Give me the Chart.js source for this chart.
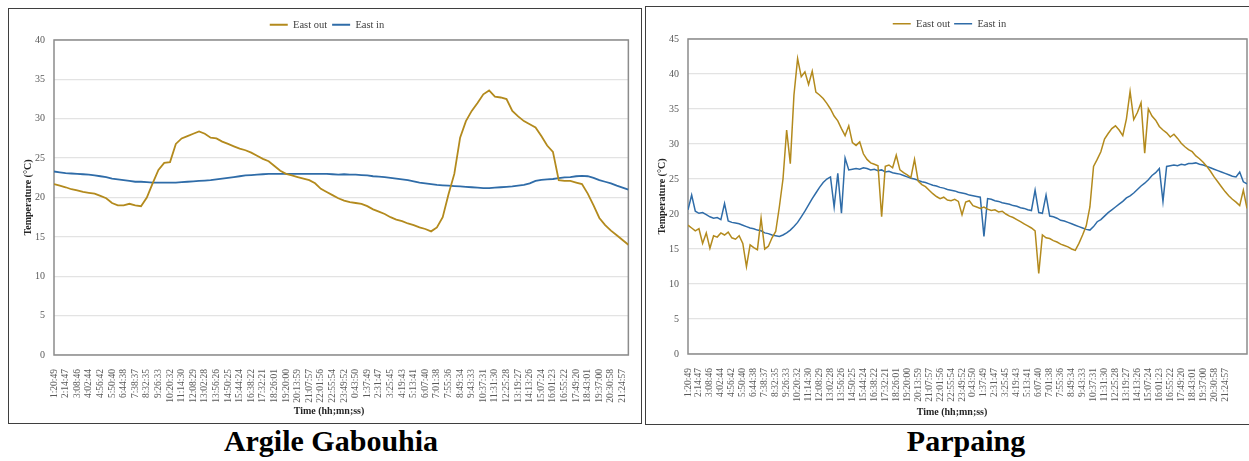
<!DOCTYPE html>
<html>
<head>
<meta charset="utf-8">
<script src="https://cdn.jsdelivr.net/npm/chart.js@4.4.1/dist/chart.umd.min.js"></script>
<style>
  body { margin: 0; background: #fff; width: 1249px; height: 461px; overflow: hidden; position: relative; font-family: "Liberation Serif", "DejaVu Serif", serif; }
  .box { position: absolute; border: 1.5px solid #3f3f3f; box-sizing: border-box; z-index: 2; pointer-events: none; }
  #boxA { left: 8px; top: 8px; width: 634px; height: 416px; }
  #boxB { left: 645px; top: 6px; width: 610px; height: 419px; }
  canvas { position: absolute; }
  #chartA { left: 10px; top: 10px; }
  #chartB { left: 647px; top: 8px; }
  .cap { position: absolute; top: 424px; width: 400px; text-align: center; font-weight: bold; font-size: 30px; line-height: 34px; color: #000; }
  #capA { left: 131px; }
  #capB { left: 766px; }
</style>
</head>
<body>
<div class="box" id="boxA"></div>
<div class="box" id="boxB"></div>
<canvas id="chartA" width="630" height="412"></canvas>
<canvas id="chartB" width="602" height="415"></canvas>
<div class="cap" id="capA">Argile Gabouhia</div>
<div class="cap" id="capB">Parpaing</div>

<script>
// time labels shown under both charts (one per label step)
const timeLabels = [
  '1:20:49', '2:14:47', '3:08:46', '4:02:44', '4:56:42', '5:50:40', '6:44:38', '7:38:37', '8:32:35', '9:26:33',
  '10:20:32', '11:14:30', '12:08:29', '13:02:28', '13:56:26', '14:50:25', '15:44:24', '16:38:22', '17:32:21', '18:26:01',
  '19:20:00', '20:13:59', '21:07:57', '22:01:56', '22:55:54', '23:49:52', '0:43:50', '1:37:49', '2:31:47', '3:25:45',
  '4:19:43', '5:13:41', '6:07:40', '7:01:38', '7:55:36', '8:49:34', '9:43:33', '10:37:31', '11:31:30', '12:25:28',
  '13:19:27', '14:13:26', '15:07:24', '16:01:23', '16:55:22', '17:49:20', '18:43:01', '19:37:00', '20:30:58', '21:24:57'
];

// Argile Gabouhia: 2 readings per label step
const argileOut = [
  21.7, 21.5, 21.3, 21.05, 20.9, 20.7, 20.6, 20.5, 20.2, 19.9,
  19.3, 19.0, 19.0, 19.2, 19.0, 18.9, 20.0, 21.8, 23.5, 24.4,
  24.5, 26.8, 27.5, 27.8, 28.1, 28.4, 28.1, 27.6, 27.5, 27.1,
  26.8, 26.5, 26.2, 26.0, 25.7, 25.3, 24.9, 24.6, 24.0, 23.4,
  23.0, 22.8, 22.6, 22.4, 22.2, 21.8, 21.1, 20.7, 20.3, 19.9,
  19.6, 19.4, 19.3, 19.2, 18.9, 18.5, 18.2, 17.9, 17.5, 17.2,
  17.0, 16.7, 16.5, 16.2, 16.0, 15.7, 16.2, 17.5, 20.4, 23.0,
  27.6, 29.7, 31.0, 32.0, 33.1, 33.6, 32.8, 32.7, 32.5, 31.0,
  30.3, 29.7, 29.3, 28.9, 27.8, 26.6, 25.8, 22.2, 22.1, 22.1,
  21.9, 21.7, 20.5, 19.0, 17.4, 16.5, 15.8, 15.2, 14.6, 14.0
];
const argileIn = [
  23.3, 23.2, 23.1, 23.05, 23.0, 22.95, 22.9, 22.8, 22.7, 22.6,
  22.4, 22.3, 22.2, 22.1, 22.0, 22.0, 21.95, 21.9, 21.9, 21.9,
  21.9, 21.9, 21.95, 22.0, 22.05, 22.1, 22.15, 22.2, 22.3, 22.4,
  22.5, 22.6, 22.7, 22.8, 22.85, 22.9, 22.95, 23.0, 23.0, 23.0,
  23.0, 23.0, 23.0, 23.0, 23.0, 23.0, 23.0, 23.0, 22.95, 22.9,
  22.95, 22.9, 22.9, 22.85, 22.8, 22.7, 22.65, 22.6, 22.5, 22.4,
  22.3, 22.2, 22.05, 21.9, 21.8, 21.7, 21.6, 21.55, 21.5, 21.45,
  21.4, 21.35, 21.3, 21.25, 21.2, 21.2, 21.25, 21.3, 21.35, 21.4,
  21.5, 21.6, 21.8, 22.1, 22.25, 22.3, 22.35, 22.45, 22.55, 22.6,
  22.7, 22.75, 22.7, 22.5, 22.2, 22.0, 21.8, 21.5, 21.25, 21.0
];

// Parpaing: 3 readings per label step
const parpaingOut = [
  18.4, 18.0, 17.6, 17.9, 15.8, 17.3, 15.1, 16.9, 16.7, 17.3, 17.0, 17.4, 16.6, 16.4, 16.9,
  15.8, 12.5, 15.6, 15.2, 14.9, 19.4, 15.0, 15.4, 16.6, 17.5, 21.0, 25.0, 32.0, 27.2, 37.0,
  42.2, 39.6, 40.3, 38.5, 40.4, 37.4, 37.0, 36.5, 35.8, 35.0, 34.0, 33.3, 32.2, 31.2, 32.6,
  30.2, 29.8, 30.3, 28.6, 27.8, 27.3, 27.1, 26.9, 19.6, 26.8, 27.0, 26.6, 28.4, 26.3, 25.9,
  25.6, 25.2, 27.8, 24.7, 24.2, 23.9, 23.4, 22.9, 22.5, 22.2, 22.4, 22.0, 21.9, 22.1, 21.8,
  19.9, 21.7, 21.9, 21.2, 21.0, 20.8, 21.0, 20.7, 20.5, 20.6, 20.3, 20.4, 20.0, 19.7, 19.5,
  19.2, 18.9, 18.6, 18.3, 18.0, 17.6, 11.5, 17.0, 16.6, 16.5, 16.2, 16.0, 15.7, 15.5, 15.3,
  15.0, 14.8, 15.8, 17.0, 18.3, 21.0, 26.8, 27.8, 28.9, 30.7, 31.5, 32.2, 32.6, 32.0, 31.2,
  33.6, 37.5, 33.5, 34.5, 35.9, 28.7, 35.0, 34.0, 33.4, 32.5, 32.0, 31.6, 31.0, 31.4, 30.8,
  30.1, 29.6, 29.2, 28.9, 28.3, 27.9, 27.4, 26.8, 26.1, 25.3, 24.6, 23.9, 23.2, 22.6, 22.1,
  21.7, 21.2, 23.4, 20.8
];
const parpaingIn = [
  20.6, 22.7, 20.4, 20.1, 20.2, 19.9, 19.6, 19.4, 19.5, 19.2, 21.5, 19.0, 18.8, 18.7, 18.6,
  18.4, 18.2, 18.0, 17.9, 17.7, 17.6, 17.3, 17.2, 17.0, 16.9, 16.8, 17.0, 17.3, 17.7, 18.2,
  18.8, 19.6, 20.4, 21.3, 22.2, 23.0, 23.8, 24.5, 25.0, 25.3, 21.0, 25.8, 20.1, 28.0, 26.3,
  26.4, 26.5, 26.4, 26.6, 26.5, 26.3, 26.4, 26.2, 26.3, 26.0, 26.1, 25.9, 25.8, 25.7, 25.5,
  25.3, 25.1, 25.0, 24.8, 24.6, 24.5, 24.3, 24.1, 24.0, 23.8, 23.7, 23.5, 23.4, 23.3, 23.1,
  23.0, 22.9, 22.7, 22.6, 22.5, 22.4, 16.8, 22.2, 22.1, 21.9, 21.8, 21.6, 21.5, 21.4, 21.2,
  21.1, 20.9, 20.8, 20.6, 20.5, 23.4, 20.2, 20.1, 22.7, 19.7, 19.6, 19.4, 19.1, 19.0, 18.8,
  18.6, 18.4, 18.2, 18.0, 17.8, 17.7, 18.2, 18.9, 19.2, 19.7, 20.2, 20.6, 21.0, 21.4, 21.8,
  22.3, 22.6, 23.0, 23.5, 24.0, 24.4, 24.9, 25.5, 25.9, 26.5, 21.8, 26.8, 26.9, 27.0, 26.9,
  27.1, 27.0, 27.2, 27.2, 27.3, 27.1, 27.0, 26.8, 26.6, 26.4, 26.2, 26.0, 25.8, 25.6, 25.4,
  25.3, 26.0, 24.6, 24.3
];

const GOLD = '#B38A1D';
const BLUE = '#2F6CA8';
const SERIF = '"Liberation Serif", "DejaVu Serif", serif';

// grey frame round the plot area
const plotFrame = {
  id: 'plotFrame',
  beforeDatasetsDraw(chart) {
    const { left, top, right, bottom } = chart.chartArea;
    const ctx = chart.ctx;
    ctx.save();
    ctx.strokeStyle = '#8c8c8c';
    ctx.lineWidth = 1.5;
    ctx.strokeRect(left, top, right - left, bottom - top);
    ctx.restore();
  }
};

// x axis title is centred on the whole chart, not on the plot
const xTitle = {
  id: 'xTitle',
  afterDraw(chart, args, opts) {
    const ctx = chart.ctx;
    ctx.save();
    ctx.font = 'bold 10px ' + SERIF;
    ctx.fillStyle = '#262626';
    ctx.textAlign = 'center';
    ctx.textBaseline = 'middle';
    ctx.fillText(opts.text, chart.width / 2 + opts.dx, opts.y);
    ctx.restore();
  }
};

function toPoints(values, perStep) {
  return values.map((v, k) => ({ x: k / perStep, y: v }));
}

function makeChart(id, cfg) {
  const ctx = document.getElementById(id).getContext('2d');
  return new Chart(ctx, {
    type: 'line',
    data: {
      datasets: [{
        label: 'East out',
        data: toPoints(cfg.outData, cfg.perStep),
        borderColor: GOLD,
        backgroundColor: GOLD,
        borderWidth: cfg.lineWidth,
        pointRadius: 0,
        tension: 0
      }, {
        label: 'East in',
        data: toPoints(cfg.inData, cfg.perStep),
        borderColor: BLUE,
        backgroundColor: BLUE,
        borderWidth: cfg.lineWidth,
        pointRadius: 0,
        tension: 0
      }]
    },
    options: {
      responsive: false,
      animation: false,
      layout: { padding: { left: cfg.padLeft, right: cfg.padRight, top: 0, bottom: 0 } },
      scales: {
        x: {
          type: 'linear',
          min: 0,
          max: cfg.xMax,
          grid: { display: false },
          border: { display: false },
          ticks: {
            stepSize: 1,
            autoSkip: false,
            includeBounds: false,
            minRotation: 90,
            maxRotation: 90,
            padding: 6,
            color: '#595959',
            font: { family: SERIF, size: 9.5 },
            callback: (v) => Number.isInteger(v) ? timeLabels[v] : ''
          },
          afterFit: (s) => { s.height = cfg.xHeight; }
        },
        y: {
          min: 0,
          max: cfg.yMax,
          grid: { color: '#e3e3e3', lineWidth: 1.3, drawTicks: false },
          border: { display: false },
          ticks: {
            stepSize: 5,
            padding: 9,
            color: '#595959',
            font: { family: SERIF, size: 10 }
          },
          title: {
            display: true,
            text: 'Temperature (°C)',
            color: '#262626',
            font: { family: SERIF, size: 10, weight: 'bold' },
            padding: { top: 4, bottom: 4 }
          },
          afterFit: (s) => { s.width = 36; s.paddingTop = cfg.plotTop; }
        }
      },
      plugins: {
        legend: {
          display: true,
          position: 'top',
          labels: {
            usePointStyle: true,
            pointStyle: 'line',
            pointStyleWidth: 18,
            padding: cfg.legendPad,
            color: '#404040',
            font: { family: SERIF, size: 10.5 }
          }
        },
        tooltip: { enabled: false },
        xTitle: { text: 'Time (hh;mn;ss)', dx: 4, y: cfg.titleY }
      }
    },
    plugins: [plotFrame, xTitle]
  });
}

makeChart('chartA', {
  outData: argileOut, inData: argileIn, perStep: 2, xMax: 49.5, yMax: 40,
  lineWidth: 1.8, padLeft: 8, padRight: 4, xHeight: 67, plotTop: 30, legendPad: 5, titleY: 401
});

makeChart('chartB', {
  outData: parpaingOut, inData: parpaingIn, perStep: 3, xMax: 51, yMax: 45,
  lineWidth: 1.5, padLeft: 5, padRight: 2, xHeight: 69, plotTop: 31, legendPad: 4, titleY: 404
});
</script>
</body>
</html>
